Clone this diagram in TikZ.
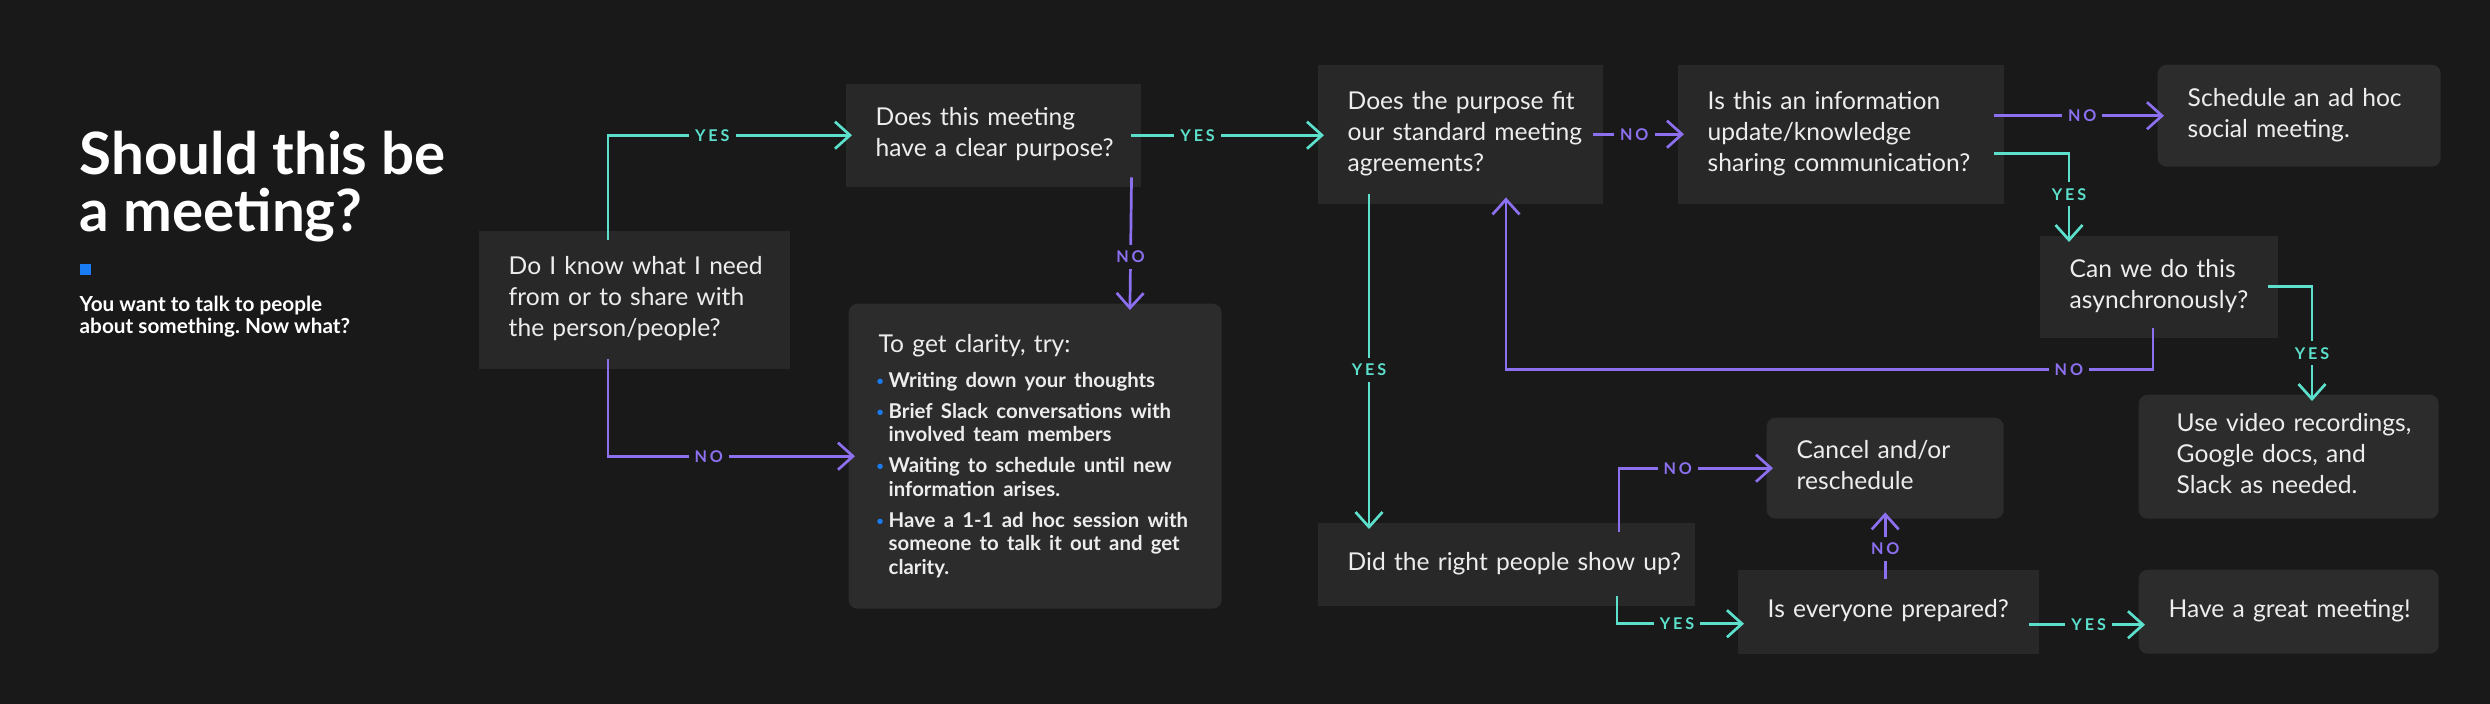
\documentclass[tikz,border=0pt]{standalone}
\usepackage{fontspec}
\setmainfont{Lato}
\newfontfamily\tagfont[LetterSpace=18]{Lato}
\usetikzlibrary{positioning,arrows.meta,calc}
\usepackage{xcolor}
\frenchspacing

\definecolor{bgdark}{HTML}{191919}
\definecolor{boxgray}{HTML}{282828}
\definecolor{boxsoft}{HTML}{2C2C2C}
\definecolor{yesteal}{HTML}{5CE0CC}
\definecolor{nopurple}{HTML}{8C70F0}
\definecolor{inktext}{HTML}{EDEDED}
\definecolor{dotblue}{HTML}{1A7CF5}

% lines of a box, never re-wrapped
\newcommand{\boxlines}[1]{\begin{tabular}{@{}l@{}}#1\end{tabular}}
\newcommand{\clarityitem}{\noindent\llap{\raisebox{0.6pt}{\textcolor{dotblue}{\fontsize{3.5}{4}\selectfont\textbullet}}\hspace{0.05cm}}}

\begin{document}
\begin{tikzpicture}[
  qbox/.style={fill=boxgray, text=inktext, font=\fontsize{7}{8.8}\selectfont, align=left,
    anchor=north west, inner xsep=0.3cm, inner ysep=0pt, text width=#1cm},
  abox/.style={qbox=#1, fill=boxsoft, rounded corners=0.09cm},
  link/.style={line width=0.027cm, -{Straight Barb[length=0.15cm,width=0.27cm]},
    shorten <=-0.1cm, shorten >=-0.07cm},
  yesline/.style={link, draw=yesteal},
  noline/.style={link, draw=nopurple},
  tag/.style={fill=bgdark, font=\tagfont\bfseries\fontsize{4.6}{4.6}\selectfont,
    inner xsep=0.06cm, inner ysep=0.06cm},
  yestag/.style={tag, text=yesteal},
  notag/.style={tag, text=nopurple}]
% page
\useasboundingbox (0,0) rectangle (24.9,-7.03);
\fill[bgdark] (-0.1,0.1) rectangle (25,-7.13);
% title block
\node[anchor=north west, inner sep=0, align=left, text=white,
  font=\fontsize{16.6}{16.2}\selectfont\bfseries] (title) at (0.79,-1.30) {Should this be\\a meeting?};
\node[anchor=north west, inner sep=0, minimum size=0.11cm, fill=dotblue] (mark) at (0.79,-2.63) {};
\node[anchor=north west, inner sep=0, align=left, text=white,
  font=\fontsize{5.9}{6.5}\selectfont\bfseries] (intro) at (0.79,-2.95) {You want to talk to people\\about something. Now what?};
% questions and outcomes
\node[qbox=2.51, minimum height=1.38cm] (know) at (4.78,-2.30)
  {\boxlines{Do I know what I need\\from or to share with\\the person/people?}};
\node[qbox=2.35, minimum height=1.03cm] (clear) at (8.45,-0.83)
  {\boxlines{Does this meeting\\have a clear purpose?}};
\node[abox=3.13, minimum height=3.05cm] (clarity) at (8.48,-3.03) {%
  \fontsize{7}{8.8}\selectfont To get clarity, try:\par\vspace{1pt}
  \fontsize{5.8}{6.7}\selectfont\bfseries\leftskip=0.1cm\parskip=2.1pt
  \clarityitem Writing down your thoughts\par
  \clarityitem Brief Slack conversations with\\involved team members\par
  \clarityitem Waiting to schedule until new\\information arises.\par
  \clarityitem Have a 1-1 ad hoc session with\\someone to talk it out and get\\clarity.\par};
\node[qbox=2.25, minimum height=1.39cm] (fits) at (13.17,-0.64)
  {\boxlines{Does the purpose fit\\our standard meeting\\agreements?}};
\node[qbox=2.66, minimum height=1.39cm] (info) at (16.77,-0.64)
  {\boxlines{Is this an information\\update/knowledge\\sharing communication?}};
\node[abox=2.23, minimum height=1.02cm] (social) at (21.57,-0.64)
  {\boxlines{Schedule an ad hoc\\social meeting.}};
\node[qbox=1.78, minimum height=1.02cm] (async) at (20.39,-2.35)
  {\boxlines{Can we do this\\asynchronously?}};
\node[abox=2.24, inner xsep=0.38cm, minimum height=1.24cm] (video) at (21.38,-3.94)
  {\boxlines{Use video recordings,\\Google docs, and\\Slack as needed.}};
\node[qbox=3.17, minimum height=0.83cm] (showup) at (13.17,-5.22)
  {\boxlines{Did the right people show up?}};
\node[abox=1.77, minimum height=1.01cm] (cancel) at (17.66,-4.17)
  {\boxlines{Cancel and/or\\reschedule}};
\node[qbox=2.41, minimum height=0.84cm] (prepared) at (17.37,-5.69)
  {\boxlines{Is everyone prepared?}};
\node[abox=2.40, minimum height=0.84cm] (great) at (21.38,-5.69)
  {\boxlines{Have a great meeting!}};
% first question
\draw[yesline] ($(know.north west)+(1.30,0)$) |- node[yestag, pos=0.72] (t1) {YES} (clear.west);
\draw[noline] ($(know.south west)+(1.30,0)$) |- node[notag, pos=0.71] (t2) {NO} (clarity.west);
% purpose
\draw[noline] ($(clear.south east)+(-0.10,0)$) -- node[notag, pos=0.6] (t3) {NO} ($(clarity.north west)+(2.82,0)$);
\draw[yesline] (clear.east) -- node[yestag, pos=0.32] (t4) {YES} (clear.east -| fits.west);
% agreements
\draw[noline] (fits.east) -- node[notag, pos=0.42] (t5) {NO} (info.west);
\draw[yesline] ($(fits.south west)+(0.52,0)$) -- node[yestag, pos=0.52] (t10) {YES} ($(showup.north west)+(0.52,0)$);
% information sharing
\draw[noline] (info.east |- social.west) -- node[notag, pos=0.51] (t6) {NO} (social.west);
\draw[yesline] ($(info.east)+(0,-0.195)$) -| node[yestag, pos=0.75] (t7) {YES} ($(async.north west)+(0.30,0)$);
% async or not
\draw[yesline] (async.east) -| node[yestag, pos=0.81] (t8) {YES} ($(video.north west)+(1.74,0)$);
\draw[noline] ($(async.south west)+(1.14,0)$) -- ++(0,-0.31) -| node[notag, pos=0.065] (t9) {NO} ($(fits.south west)+(1.89,0)$);
% in the meeting
\draw[noline] ($(showup.north west)+(3.02,0)$) |- node[notag, pos=0.70] (t11) {NO} (cancel.west);
\draw[yesline] ($(showup.south west)+(3.00,0)$) |- node[yestag, pos=0.75] (t12) {YES} ($(prepared.west)+(0,-0.12)$);
\draw[noline] (prepared.north -| cancel.south) -- node[notag, pos=0.41] (t13) {NO} (cancel.south);
\draw[yesline] ($(prepared.east)+(0,-0.13)$) -- node[yestag, pos=0.5] (t14) {YES} ($(great.west)+(0,-0.13)$);
\end{tikzpicture}
\end{document}
